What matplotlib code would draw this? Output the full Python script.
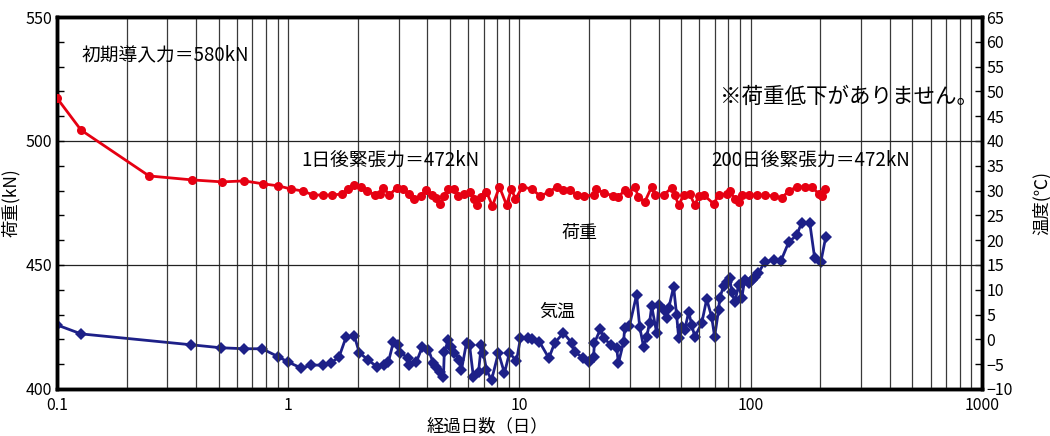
import matplotlib
matplotlib.use("Agg")
import matplotlib.pyplot as plt
from matplotlib.ticker import FixedLocator, FixedFormatter, MultipleLocator, NullFormatter

plt.rcParams['font.family'] = ['Noto Sans CJK JP', 'DejaVu Sans']

# 荷重（kN）の経時変化
load_days = [0.1, 0.127, 0.25, 0.384, 0.518, 0.645, 0.78, 0.905, 1.03, 1.16,
             1.28, 1.42, 1.55, 1.70, 1.82, 1.93, 2.07, 2.20, 2.38, 2.50,
             2.58, 2.74, 2.94, 3.12, 3.34, 3.51, 3.76, 3.96, 4.20, 4.37,
             4.55, 4.73, 4.93, 5.23, 5.44, 5.78, 6.08, 6.38, 6.52, 6.84,
             7.2, 7.64, 8.19, 8.79, 9.23, 9.61, 10.3, 11.3, 12.3, 13.4,
             14.5, 15.5, 16.5, 17.7, 19.1, 20.9, 21.5, 23.3, 25.5, 26.8,
             28.5, 29.6, 31.5, 32.7, 34.8, 37.3, 38.4, 42.0, 45.5, 46.9,
             48.8, 51.3, 54.4, 57.3, 59.6, 62.7, 69.2, 72.6, 78.7, 81.1,
             85.3, 88.8, 91.4, 97.9, 106, 115, 126, 136, 146, 158,
             171, 184, 197, 203, 209]
load_kn = [517.3, 504.4, 485.9, 484.3, 483.5, 483.9, 482.7, 481.9, 480.6, 479.8,
           478.2, 478.2, 478.2, 478.6, 480.6, 482.3, 481.5, 479.8, 478.2, 478.6,
           481.1, 478.2, 481.1, 480.6, 478.6, 476.6, 477.8, 480.2, 478.2, 477.0,
           474.6, 477.8, 480.6, 480.6, 477.8, 478.6, 479.4, 476.6, 474.2, 477.4,
           479.4, 473.8, 481.5, 474.2, 480.6, 476.6, 481.5, 480.6, 477.8, 479.4,
           481.5, 480.2, 480.2, 478.2, 477.8, 478.2, 480.6, 479.0, 477.8, 477.4,
           480.2, 479.0, 481.5, 477.4, 475.4, 481.5, 478.2, 478.2, 481.1, 478.2,
           474.2, 478.2, 478.6, 474.2, 477.8, 478.2, 474.6, 478.2, 478.6, 479.8,
           476.6, 475.4, 478.2, 478.2, 478.2, 478.2, 477.8, 477.0, 479.8, 481.5,
           481.5, 481.5, 478.6, 477.8, 480.6]

# 気温（℃）の経時変化
temp_days = [0.1, 0.127, 0.38, 0.51, 0.645, 0.77, 0.905, 1.0, 1.14, 1.26,
             1.42, 1.53, 1.66, 1.78, 1.93, 2.03, 2.22, 2.43, 2.6, 2.71,
             2.85, 2.99, 3.05, 3.31, 3.34, 3.58, 3.8, 4.04, 4.24, 4.37,
             4.55, 4.69, 4.73, 4.93, 5.08, 5.23, 5.5, 5.61, 5.9, 6.08,
             6.32, 6.65, 6.84, 6.98, 7.2, 7.57, 8.11, 8.61, 9.05, 9.7,
             10.1, 10.9, 11.3, 12.2, 13.4, 14.2, 15.5, 16.8, 17.3, 18.9,
             19.9, 20.9, 21.1, 22.4, 23.1, 24.8, 26.3, 26.8, 28.2, 28.5,
             29.9, 32.1, 33.1, 34.4, 35.5, 36.5, 37.3, 39.2, 40.0, 42.0,
             43.3, 44.2, 46.4, 47.8, 48.8, 50.2, 51.8, 53.9, 55.6, 57.3,
             61.4, 64.5, 67.8, 69.8, 72.6, 73.4, 76.4, 78.7, 81.1, 82.8,
             85.3, 88.8, 91.4, 94.2, 97.9, 101, 104, 108, 115, 126,
             135, 146, 158, 166, 180, 189, 201, 211]
temp_c = [2.9, 1.1, -1.1, -1.7, -1.9, -1.9, -3.5, -4.6, -5.8, -5.2,
          -5.2, -4.8, -3.5, 0.5, 0.7, -2.7, -4.2, -5.6, -5.2, -4.6,
          -0.5, -1.1, -2.7, -3.8, -5.2, -4.6, -1.5, -2.1, -4.8, -5.6,
          -6.6, -7.6, -2.5, -0.1, -1.5, -2.7, -4.2, -6.2, -0.7, -1.1,
          -7.6, -6.6, -1.1, -2.7, -6.2, -8.2, -2.7, -6.8, -2.7, -4.4,
          0.3, 0.3, 0.1, -0.5, -3.8, -0.7, 1.3, -0.7, -2.5, -3.8,
          -4.6, -3.5, -0.7, 2.1, 0.3, -1.1, -1.7, -4.8, -0.5, 2.3,
          2.7, 9.0, 2.5, -1.5, 0.5, 3.3, 6.7, 1.3, 6.9, 5.9,
          4.3, 6.3, 10.6, 4.9, 0.3, 2.5, 1.9, 5.5, 2.9, 0.5,
          3.3, 8.1, 4.5, 0.5, 5.9, 8.3, 10.8, 11.6, 12.4, 9.6,
          7.5, 11.0, 8.3, 12.0, 11.4, 12.0, 12.6, 13.4, 15.6, 16.0,
          15.8, 19.6, 21.0, 23.5, 23.5, 16.4, 15.6, 20.6]

x_ticks = [0.1, 1, 10, 100, 1000]
x_tick_labels = ['0.1', '1', '10', '100', '1000']
load_ticks = [400, 450, 500, 550]
temp_ticks = list(range(-10, 70, 5))

RED = '#e60012'
NAVY = '#1d2088'

fig = plt.figure(figsize=(10.5, 4.36), dpi=100)
ax = fig.add_axes([0.0543, 0.108, 0.8809, 0.853])
ax2 = ax.twinx()

ax.set_xscale('log')
ax.set_xlim(0.1, 1000)
ax.set_ylim(400, 550)
ax2.set_ylim(-10, 65)

# 対数目盛の縦グリッド（各桁の1〜9）
grid_x = [m * 10 ** e for e in range(-1, 3) for m in range(1, 10)][1:]
for gx in grid_x:
    ax.axvline(gx, color='#3a3a3a', lw=0.9, zorder=1)
for gy in [450, 500]:
    ax.axhline(gy, color='#222222', lw=0.9, zorder=1)

ax2.plot(temp_days, temp_c, color=NAVY, lw=2.0, marker='D', ms=6.5,
         markeredgewidth=0, zorder=3)
ax.plot(load_days, load_kn, color=RED, lw=2.0, marker='o', ms=6.5,
        markeredgewidth=0, zorder=3)
ax.set_zorder(ax2.get_zorder() + 1)
ax.patch.set_visible(False)

ax.xaxis.set_major_locator(FixedLocator(x_ticks))
ax.xaxis.set_major_formatter(FixedFormatter(x_tick_labels))
ax.xaxis.set_minor_formatter(NullFormatter())
ax.tick_params(axis='x', which='both', length=0, labelsize=11.5, pad=6)

ax.yaxis.set_major_locator(FixedLocator(load_ticks))
ax.yaxis.set_minor_locator(MultipleLocator(10))
ax.tick_params(axis='y', which='both', direction='in', length=5, width=1,
               labelsize=11.5)

ax2.yaxis.set_major_locator(FixedLocator(temp_ticks))
ax2.tick_params(axis='y', direction='in', length=5, width=1, labelsize=11.5, pad=3)

for a in (ax, ax2):
    for s in a.spines.values():
        s.set_linewidth(2.5)
        s.set_color('black')

ax.set_xlabel('経過日数（日）', fontsize=12.5, labelpad=2)
ax.xaxis.set_label_coords(0.465, -0.077)
ax.set_ylabel('荷重(kN)', fontsize=12.5, labelpad=4)
ax2.set_ylabel('温度(℃)', fontsize=12.5, rotation=90, labelpad=14)

ax.text(0.127, 534.7, '初期導入力＝580kN', fontsize=13.5, va='center')
ax.text(1.14, 492.3, '1日後緊張力＝472kN', fontsize=13.5, va='center')
ax.text(67.8, 492.3, '200日後緊張力＝472kN', fontsize=13.5, va='center')
ax.text(73.4, 517.7, '※荷重低下がありません。', fontsize=15.5, va='center')
ax.text(15.2, 463, '荷重', fontsize=13, va='center')
ax.text(12.2, 431, '気温', fontsize=13, va='center')

fig.savefig('out.png', dpi=100)
